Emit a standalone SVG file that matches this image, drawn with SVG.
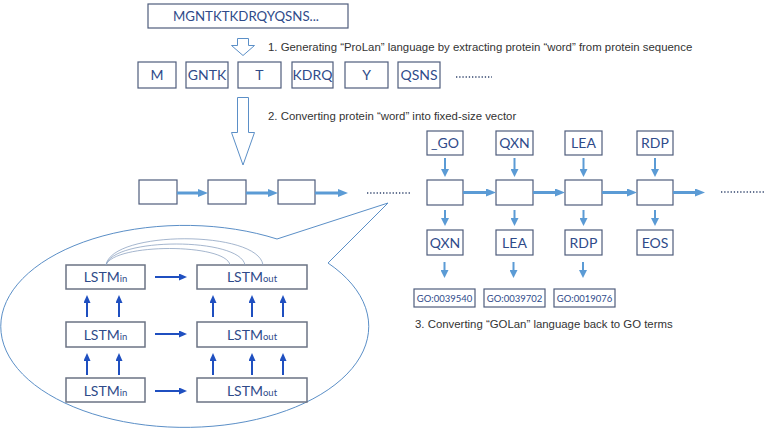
<svg xmlns="http://www.w3.org/2000/svg" width="768" height="434" viewBox="0 0 768 434">
<style>
.bx{fill:#fff;stroke:#4f5d7c;stroke-width:1.2}
.lb{fill:#fff;stroke:#6b7384;stroke-width:1.5}
.t{font-family:Lato,"Open Sans","DejaVu Sans",sans-serif;fill:#2f4b8a;text-anchor:middle}
.cap{font-family:"Liberation Sans",Arial,sans-serif;font-size:11.4px;fill:#333}
.hol{fill:#fff;stroke:#5b8fc7;stroke-width:1}
.ca{stroke:#5b9bd5;stroke-width:3;fill:none}
.va{stroke:#5b9bd5;stroke-width:2;fill:none}
.da{stroke:#1f4fc0;stroke-width:2;fill:none}
.dots{stroke:#33466e;stroke-width:1.3;stroke-dasharray:1.3 1.9;fill:none}
.arc{stroke:#8ea3c2;stroke-width:0.8;fill:none}
</style>
<defs>
<marker id="hc" viewBox="0 0 10 8" refX="3" refY="4" markerWidth="10" markerHeight="8" markerUnits="userSpaceOnUse" orient="auto"><path d="M0,0L10,4L0,8z" fill="#5b9bd5"/></marker>
<marker id="hv" viewBox="0 0 8 8" refX="3" refY="4" markerWidth="8" markerHeight="8" markerUnits="userSpaceOnUse" orient="auto"><path d="M0,0L8,4L0,8z" fill="#5b9bd5"/></marker>
<marker id="hd" viewBox="0 0 8 7" refX="3" refY="3.5" markerWidth="8" markerHeight="7" markerUnits="userSpaceOnUse" orient="auto"><path d="M0,0L8,3.5L0,7z" fill="#1f4fc0"/></marker>
</defs>
<rect width="768" height="434" fill="#fff"/>

<g id="seq"><rect class="bx" x="148" y="4" width="200" height="24"/><text class="t" x="246" y="21" font-size="14" textLength="146" lengthAdjust="spacingAndGlyphs">MGNTKTKDRQYQSNS...</text></g>

<g id="step1-arrow"><path class="hol" d="M237.5 38.5H248.5V45.5H254.5L243 55.5L231.5 45.5H237.5Z"/></g>
<text class="cap" x="268" y="51">1. Generating “ProLan” language by extracting protein “word” from protein sequence</text>

<g id="w-M"><rect class="bx" x="138" y="62" width="38" height="26"/><text class="t" x="157" y="80" font-size="14">M</text></g>
<g id="w-GNTK"><rect class="bx" x="186" y="62" width="42" height="26"/><text class="t" x="207" y="80" font-size="14">GNTK</text></g>
<g id="w-T"><rect class="bx" x="238" y="62" width="43" height="26"/><text class="t" x="259.5" y="80" font-size="14">T</text></g>
<g id="w-KDRQ"><rect class="bx" x="292" y="62" width="41" height="26"/><text class="t" x="312.5" y="80" font-size="14">KDRQ</text></g>
<g id="w-Y"><rect class="bx" x="345" y="62" width="43" height="26"/><text class="t" x="366.5" y="80" font-size="14">Y</text></g>
<g id="w-QSNS"><rect class="bx" x="398" y="62" width="42" height="26"/><text class="t" x="419" y="80" font-size="14">QSNS</text></g>
<line class="dots" x1="456" y1="77" x2="492" y2="77"/>

<g id="step2-arrow"><path class="hol" d="M237.5 97.5H248.5V132.5H254.5L243 165L231.5 132.5H237.5Z"/></g>
<text class="cap" x="268" y="120">2. Converting protein “word” into fixed-size vector</text>

<g id="e1"><rect class="bx" x="139" y="180" width="38" height="24"/></g>
<g id="e2"><rect class="bx" x="208" y="180" width="38" height="24"/></g>
<g id="e3"><rect class="bx" x="278" y="180" width="37" height="24"/></g>
<line class="dots" x1="367" y1="193" x2="410" y2="193"/>

<g id="in-GO"><rect class="bx" x="427" y="131" width="36" height="24"/><text class="t" x="445" y="148" font-size="14">_GO</text></g>
<g id="in-QXN"><rect class="bx" x="496" y="131" width="37" height="24"/><text class="t" x="514.5" y="148" font-size="14">QXN</text></g>
<g id="in-LEA"><rect class="bx" x="565" y="131" width="37" height="24"/><text class="t" x="583.5" y="148" font-size="14">LEA</text></g>
<g id="in-RDP"><rect class="bx" x="637" y="131" width="36" height="24"/><text class="t" x="655" y="148" font-size="14">RDP</text></g>

<g id="d1"><rect class="bx" x="427" y="180" width="36" height="25"/></g>
<g id="d2"><rect class="bx" x="496" y="180" width="37" height="25"/></g>
<g id="d3"><rect class="bx" x="565" y="180" width="37" height="25"/></g>
<g id="d4"><rect class="bx" x="637" y="180" width="36" height="25"/></g>
<line class="dots" x1="721" y1="192" x2="765" y2="192"/>

<g id="out-QXN"><rect class="bx" x="427" y="230" width="36" height="25"/><text class="t" x="445" y="248" font-size="14">QXN</text></g>
<g id="out-LEA"><rect class="bx" x="496" y="230" width="37" height="25"/><text class="t" x="514.5" y="248" font-size="14">LEA</text></g>
<g id="out-RDP"><rect class="bx" x="565" y="230" width="37" height="25"/><text class="t" x="583.5" y="248" font-size="14">RDP</text></g>
<g id="out-EOS"><rect class="bx" x="637" y="230" width="36" height="25"/><text class="t" x="655" y="248" font-size="14">EOS</text></g>

<g id="go1"><rect class="bx" x="414" y="289" width="61" height="18"/><text class="t" x="444.5" y="302" font-size="9.5">GO:0039540</text></g>
<g id="go2"><rect class="bx" x="484" y="289" width="61" height="18"/><text class="t" x="514.5" y="302" font-size="9.5">GO:0039702</text></g>
<g id="go3"><rect class="bx" x="554" y="289" width="61" height="18"/><text class="t" x="584.5" y="302" font-size="9.5">GO:0019076</text></g>
<text class="cap" x="415" y="328">3. Converting “GOLan” language back to GO terms</text>

<g id="bubble"><path class="hol" fill="none" d="M277 239L388 203L328 263A184 101 0 1 1 277 239Z"/></g>

<g id="lstm-in-1"><rect class="lb" x="66" y="265" width="79" height="24"/><text class="t" x="105.5" y="282" font-size="14">LSTM<tspan font-size="9.5">in</tspan></text></g>
<g id="lstm-in-2"><rect class="lb" x="66" y="322" width="79" height="25"/><text class="t" x="105.5" y="340" font-size="14">LSTM<tspan font-size="9.5">in</tspan></text></g>
<g id="lstm-in-3"><rect class="lb" x="66" y="378" width="79" height="24"/><text class="t" x="105.5" y="396" font-size="14">LSTM<tspan font-size="9.5">in</tspan></text></g>
<g id="lstm-out-1"><rect class="lb" x="197" y="265" width="110" height="24"/><text class="t" x="252" y="282" font-size="14">LSTM<tspan font-size="9.5">out</tspan></text></g>
<g id="lstm-out-2"><rect class="lb" x="197" y="322" width="110" height="25"/><text class="t" x="252" y="340" font-size="14">LSTM<tspan font-size="9.5">out</tspan></text></g>
<g id="lstm-out-3"><rect class="lb" x="197" y="378" width="110" height="24"/><text class="t" x="252" y="396" font-size="14">LSTM<tspan font-size="9.5">out</tspan></text></g>

<g id="connectors">
<line class="ca" x1="177" y1="193" x2="201" y2="193" marker-end="url(#hc)"/>
<line class="ca" x1="246" y1="193" x2="271" y2="193" marker-end="url(#hc)"/>
<line class="ca" x1="315" y1="193" x2="341" y2="193" marker-end="url(#hc)"/>
<line class="ca" x1="463" y1="192.5" x2="489" y2="192.5" marker-end="url(#hc)"/>
<line class="ca" x1="533" y1="192.5" x2="558" y2="192.5" marker-end="url(#hc)"/>
<line class="ca" x1="602" y1="192.5" x2="630" y2="192.5" marker-end="url(#hc)"/>
<line class="ca" x1="673" y1="192.5" x2="698" y2="192.5" marker-end="url(#hc)"/>

<line class="va" x1="445" y1="158" x2="445" y2="172" marker-end="url(#hv)"/>
<line class="va" x1="514.5" y1="158" x2="514.5" y2="172" marker-end="url(#hv)"/>
<line class="va" x1="583.5" y1="158" x2="583.5" y2="172" marker-end="url(#hv)"/>
<line class="va" x1="655" y1="158" x2="655" y2="172" marker-end="url(#hv)"/>
<line class="va" x1="445" y1="210" x2="445" y2="221" marker-end="url(#hv)"/>
<line class="va" x1="514.5" y1="210" x2="514.5" y2="221" marker-end="url(#hv)"/>
<line class="va" x1="583.5" y1="210" x2="583.5" y2="221" marker-end="url(#hv)"/>
<line class="va" x1="655" y1="210" x2="655" y2="221" marker-end="url(#hv)"/>
<line class="va" x1="444.5" y1="262" x2="444.5" y2="273" marker-end="url(#hv)"/>
<line class="va" x1="513.5" y1="262" x2="513.5" y2="273" marker-end="url(#hv)"/>
<line class="va" x1="583" y1="262" x2="583" y2="273" marker-end="url(#hv)"/>

<line class="da" x1="155" y1="277" x2="182" y2="277" marker-end="url(#hd)"/>
<line class="da" x1="155" y1="334" x2="182" y2="334" marker-end="url(#hd)"/>
<line class="da" x1="155" y1="391" x2="182" y2="391" marker-end="url(#hd)"/>
<line class="da" x1="87" y1="317" x2="87" y2="300" marker-end="url(#hd)"/>
<line class="da" x1="119" y1="317" x2="119" y2="300" marker-end="url(#hd)"/>
<line class="da" x1="87" y1="375" x2="87" y2="358" marker-end="url(#hd)"/>
<line class="da" x1="119" y1="375" x2="119" y2="358" marker-end="url(#hd)"/>
<line class="da" x1="213" y1="317" x2="213" y2="300" marker-end="url(#hd)"/>
<line class="da" x1="252" y1="317" x2="252" y2="300" marker-end="url(#hd)"/>
<line class="da" x1="283" y1="317" x2="283" y2="300" marker-end="url(#hd)"/>
<line class="da" x1="213" y1="375" x2="213" y2="358" marker-end="url(#hd)"/>
<line class="da" x1="252" y1="375" x2="252" y2="358" marker-end="url(#hd)"/>
<line class="da" x1="283" y1="375" x2="283" y2="358" marker-end="url(#hd)"/>

<path class="arc" d="M106 265C112 230 258 230 263 265"/>
<path class="arc" d="M106 265C113 237 240 237 245 265"/>
<path class="arc" d="M106 265C114 243 226 243 230 265"/>
</g>
</svg>
